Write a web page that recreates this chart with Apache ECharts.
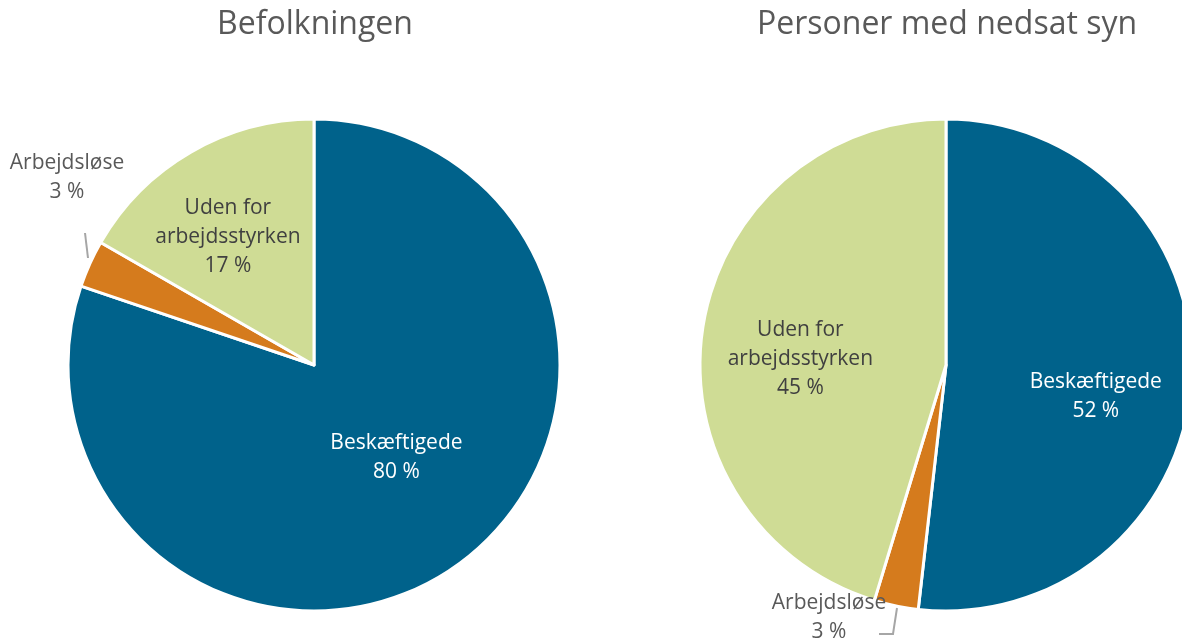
<!DOCTYPE html>
<html>
<head>
<meta charset="utf-8">
<script src="https://cdn.jsdelivr.net/npm/echarts@6/dist/echarts.min.js"></script>
<style>html,body{margin:0;padding:0;background:#fff}#c{width:1182px;height:643px}</style>
</head>
<body>
<div id="c"></div>
<script>
const categories = ['Beskæftigede', 'Arbejdsløse', 'Uden for\narbejdsstyrken'];
const titles = ['Befolkningen', 'Personer med nedsat syn'];
const befolkningen = [80.2, 3.1, 16.7];
const nedsatSyn = [51.8, 2.9, 45.3];
const labelPct = [[80, 3, 17], [52, 3, 45]];
const colors = ['#00628B', '#D57B1D', '#CFDC95'];
const labelColors = ['#FFFFFF', '#595959', '#404040'];

const chart = echarts.init(document.getElementById('c'), null, {renderer: 'canvas'});
const font = '"Open Sans", Lato, sans-serif';

// per-series label adjustments (dx, dy) for inside labels, and outside label placement
const insideShift = [
  {0: [9, -10], 2: [-23, -19]},
  {0: [24, 24], 2: [-21, 13]}
];
const outsideLabel = [
  {pos: [67, 178], line: [[88, 258], [85, 233]]},
  {pos: [829, 618], line: [[897, 608], [893, 634], [879, 634]]}
];

function makeSeries(values, si, cx) {
  return {
    type: 'pie',
    center: [cx, 365],
    radius: 246,
    startAngle: 90,
    clockwise: true,
    animation: false,
    silent: true,
    itemStyle: {borderColor: '#fff', borderWidth: 3},
    data: values.map((v, i) => ({
      value: v,
      name: categories[i],
      itemStyle: {color: colors[i]},
      label: i === 1 ? {
        position: 'outside', color: '#595959', overflow: 'none'
      } : {
        position: 'inside', color: labelColors[i]
      },
      labelLine: {show: i === 1, lineStyle: {color: '#A6A6A6', width: 2}}
    })),
    label: {
      show: true,
      fontFamily: font,
      fontSize: 21,
      lineHeight: 29,
      align: 'center',
      formatter: p => p.name + '\n' + labelPct[si][p.dataIndex] + ' %'
    },
    labelLayout: function (params) {
      const i = params.dataIndex;
      if (i === 1) {
        const o = outsideLabel[si];
        return {x: o.pos[0], y: o.pos[1], align: 'center', verticalAlign: 'middle', width: 170,
                labelLinePoints: o.line.length === 2 ? [o.line[0], o.line[1], o.line[1]] : o.line};
      }
      const s = insideShift[si][i];
      return {dx: s[0], dy: s[1], width: 200};
    }
  };
}

chart.setOption({
  backgroundColor: '#fff',
  title: [
    {text: titles[0], left: 310, top: 4, textAlign: 'center',
     textStyle: {fontFamily: font, fontSize: 32, fontWeight: 'normal', color: '#595959'}},
    {text: titles[1], left: 942, top: 4, textAlign: 'center',
     textStyle: {fontFamily: font, fontSize: 32, fontWeight: 'normal', color: '#595959'}}
  ],
  series: [makeSeries(befolkningen, 0, 314), makeSeries(nedsatSyn, 1, 946)]
});
</script>
</body>
</html>
